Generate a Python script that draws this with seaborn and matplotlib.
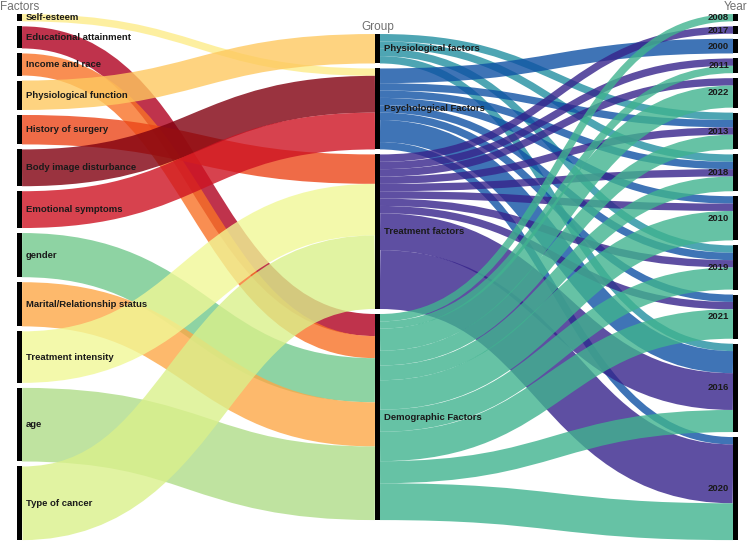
import numpy as np
import matplotlib
matplotlib.use("Agg")
import matplotlib.pyplot as plt
from matplotlib.path import Path
from matplotlib.patches import PathPatch, Rectangle
from matplotlib.colors import to_rgb
import seaborn as sns


# Factors (left column), in drawing order, with study counts
factors = ["Self-esteem", "Educational attainment", "Income and race",
           "Physiological function", "History of surgery", "Body image disturbance",
           "Emotional symptoms", "gender", "Marital/Relationship status",
           "Treatment intensity", "age", "Type of cancer"]
factor_counts = [1, 3, 3, 4, 4, 5, 5, 6, 6, 7, 10, 10]
factor_group = ["Psychological Factors", "Demographic Factors", "Demographic Factors",
                "Physiological factors", "Treatment factors", "Psychological Factors",
                "Psychological Factors", "Demographic Factors", "Demographic Factors",
                "Treatment factors", "Demographic Factors", "Treatment factors"]
factor_colors = ["#fdf0a0", "#c0224c", "#f98e52", "#fed480", "#f06b47", "#9a003f",
                 "#d8424e", "#8ed3a3", "#fdb96c", "#f4f9ab", "#bfe4a0", "#e1f3a2"]

# Groups (middle column)
groups = ["Physiological factors", "Psychological Factors",
          "Treatment factors", "Demographic Factors"]
group_colors = ["#4ea5b3", "#3f74b6", "#5e4fa2", "#66c2a5"]

# Years (right column) and counts per group
years = ["2008", "2017", "2000", "2011", "2022", "2013",
         "2018", "2010", "2019", "2021", "2016", "2020"]
phys_by_year = [0, 0, 0, 0, 0, 1, 1, 0, 1, 0, 1, 0]
psych_by_year = [0, 0, 2, 0, 0, 1, 1, 1, 1, 1, 3, 1]
treat_by_year = [0, 1, 0, 1, 1, 1, 1, 1, 1, 1, 5, 8]
demo_by_year = [1, 0, 0, 1, 3, 2, 2, 4, 3, 4, 3, 5]
group_year = [phys_by_year, psych_by_year, treat_by_year, demo_by_year]

GAP = 0.68
NODE_W = 0.014
PAD = 0.011
ALPHA = 0.8


def stack(values, span):
    values = np.asarray(values, float)
    height = values.sum() + GAP * (len(values) - 1)
    start = (span - height) / 2
    return start + np.concatenate([[0], np.cumsum(values[:-1] + GAP)])


def solid(color, a=ALPHA):
    # colour that looks like `color` on white when drawn with alpha a
    c = np.array(to_rgb(color))
    return tuple(np.clip((c - (1 - a)) / a, 0, 1))


group_counts = [sum(v for v, g in zip(factor_counts, factor_group) if g == name)
                for name in groups]
year_counts = list(np.sum(group_year, axis=0))

span = max(sum(factor_counts) + GAP * (len(factors) - 1),
           sum(year_counts) + GAP * (len(years) - 1))
factor_tops = stack(factor_counts, span)
group_tops = stack(group_counts, span)
year_tops = stack(year_counts, span)

sns.set_theme(style="white")
plt.rcParams["font.family"] = ["Liberation Sans", "DejaVu Sans"]

fig = plt.figure(figsize=(7.47, 5.43), dpi=100)
ax = fig.add_axes([0, 0, 1, 1])
ax.set_xlim(-17 / 358, 730 / 358)
ax.set_ylim((543 - 14) / 7.36, -14 / 7.36)
ax.axis("off")

pt_per_unit = abs(ax.transData.transform((0, 1))[1]
                  - ax.transData.transform((0, 0))[1]) * 72 / fig.dpi


def ribbon(x0, y0, x1, y1, value, color, z):
    xm = (x0 + x1) / 2
    path = Path([(x0, y0), (xm, y0), (xm, y1), (x1, y1)],
                [Path.MOVETO, Path.CURVE4, Path.CURVE4, Path.CURVE4])
    ax.add_patch(PathPatch(path, fill=False, edgecolor=solid(color), alpha=ALPHA,
                           lw=value * pt_per_unit, capstyle="butt", zorder=z))


# factor -> group
group_in = list(group_tops)
for i, (name, v) in enumerate(zip(factors, factor_counts)):
    g = groups.index(factor_group[i])
    ribbon(NODE_W, factor_tops[i] + v / 2, 1, group_in[g] + v / 2, v,
           factor_colors[i], 2 + i * 0.01)
    group_in[g] += v

# group -> year
year_in = list(year_tops)
for g, row in enumerate(group_year):
    out = group_tops[g]
    for j, v in enumerate(row):
        if v == 0:
            continue
        ribbon(1 + NODE_W, out + v / 2, 2, year_in[j] + v / 2, v,
               group_colors[g], 3 + g * 0.1 + j * 0.001)
        out += v
        year_in[j] += v

# node bars and labels
label_kw = dict(fontsize=6.8, fontweight="bold", color="#1a1a1a", va="center", zorder=6)
for col, tops, counts, names in [(0, factor_tops, factor_counts, factors),
                                 (1, group_tops, group_counts, groups),
                                 (2, year_tops, year_counts, years)]:
    for top, v, name in zip(tops, counts, names):
        ax.add_patch(Rectangle((col, top), NODE_W, v, color="black", lw=0, zorder=5))
        if col < 2:
            ax.text(col + NODE_W + PAD, top + v / 2, name, ha="left", **label_kw)
        else:
            ax.text(col - PAD, top + v / 2, name, ha="right", **label_kw)

for col, tops, title in [(0, factor_tops, "Factors"), (1, group_tops, "Group"),
                         (2, year_tops, "Year")]:
    ax.text(col + NODE_W / 2, tops[0] - 0.95, title, ha="center", va="center",
            fontsize=8.5, color="#707070", zorder=6)

fig.savefig("out.png", dpi=100)
